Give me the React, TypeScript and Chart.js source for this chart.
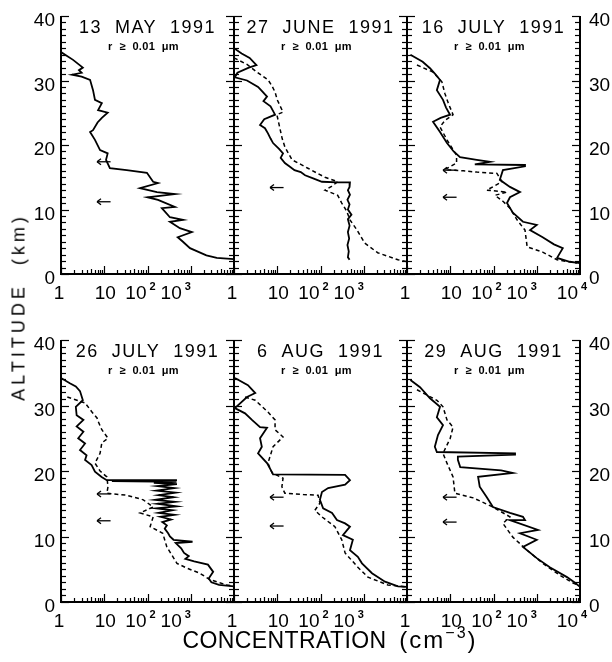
import React, { useEffect, useRef } from "react";
import { Chart, registerables } from "chart.js";

Chart.register(...registerables);

// ---------- data: [concentration (cm^-3), altitude (km)] ----------
const may13Solid: [number, number][] = [
  [1, 34.4], [1.9, 33.2], [3.2, 32.0], [2.6, 31.6], [3.0, 31.2], [1.8, 30.9], [3.0, 30.6], [4.7, 30.1],
  [5.5, 28.5], [6.1, 27.0], [8.8, 26.5], [7.2, 25.4], [12, 25.0], [8.8, 24.2], [7, 23.5], [5.5, 22.3],
  [4.7, 22.0], [6.1, 20.8], [8, 19.2], [12, 18.7], [11, 17.7], [13.5, 16.4], [33, 16.1], [97, 15.7],
  [135, 14.3], [175, 14.1], [67, 13.3], [165, 12.7], [430, 12.4], [100, 11.9], [175, 11.5], [430, 10.4],
  [215, 10.2], [330, 8.8], [660, 8.4], [330, 8.1], [560, 7.1], [1060, 6.5], [500, 5.7], [660, 5.0],
  [960, 4.0], [2300, 2.9], [4000, 2.5], [10000, 2.3],
];
const may13Arrows = [17.4, 11.2];

const june27Solid: [number, number][] = [
  [1, 35.0], [1.5, 34.2], [2.3, 33.5], [3.3, 32.4], [2.2, 32.0], [1.2, 31.2], [1.05, 30.5], [2.0, 30.0],
  [3.6, 29.0], [4.5, 28.3], [5.8, 27.5], [4.8, 26.8], [7, 26.0], [8.9, 24.7], [5, 24.0], [4.0, 23.1],
  [5.2, 22.6], [6.1, 21.8], [7, 21.0], [8, 20.3], [11, 19.4], [13.6, 18.7], [12, 18.0], [15, 17.2],
  [20, 16.6], [25, 16.1], [35, 15.8], [44, 15.3], [70, 14.8], [108, 14.3], [250, 14.2], [480, 14.2],
  [470, 13.5], [430, 13.0], [480, 12.3], [420, 11.5], [470, 10.8], [430, 10.0], [520, 9.2], [430, 8.5],
  [470, 7.5], [430, 6.5], [460, 5.5], [420, 4.5], [450, 3.5], [430, 2.6], [470, 2.2],
];
const june27Dashed: [number, number][] = [
  [1, 33.5], [2, 32.5], [3.4, 31.3], [6.1, 30.1], [7.5, 29.2], [8.9, 28.2], [10, 27], [13.6, 25.1],
  [9.8, 24.7], [10.5, 23.8], [11.5, 22.6], [13, 21], [15, 19.7], [22, 17.7], [35, 17.0], [51, 16.4],
  [80, 15.7], [127, 15.0], [250, 14.3], [180, 13.6], [127, 13.0], [250, 12.2], [310, 11.0], [400, 9.8],
  [480, 8.4], [700, 6.8], [1050, 4.8], [2100, 3.3], [6200, 2.2], [10000, 1.9],
];
const june27Arrows = [13.4];

const july16Solid: [number, number][] = [
  [1.2, 34.0], [2.3, 32.9], [3.4, 31.9], [4.5, 31.0], [5.8, 30.1], [4.9, 28.5], [6.8, 27.0], [8, 25.8],
  [9.9, 24.7], [6, 24.2], [4.0, 23.6], [5.8, 22.0], [8.4, 20.3], [12, 19.0], [16.8, 18.1], [41, 17.7],
  [83, 17.4], [37, 17.0], [535, 16.9], [535, 16.7], [165, 16.1], [140, 14.6], [240, 13.5], [410, 12.7],
  [240, 11.9], [205, 11.0], [280, 9.5], [480, 8.1], [1000, 7.6], [700, 6.8], [1370, 5.7], [2500, 4.6],
  [4000, 4.0], [2950, 2.5], [5800, 1.9], [10000, 1.7],
];
const july16Dashed: [number, number][] = [
  [1.7, 32.4], [4, 31.3], [6.4, 29.8], [7.5, 28.0], [9, 26.5], [11.6, 24.7], [7.5, 23.8], [5.8, 22.8],
  [8.4, 20.8], [14, 18.4], [14, 17.2], [7.5, 16.2], [20, 16.0], [41, 15.8], [120, 15.6], [157, 14.3],
  [70, 13.0], [205, 12.7], [108, 12.2], [170, 11.2], [240, 10.2], [350, 8.4], [535, 6.8], [600, 4.2],
  [1370, 3.4], [2950, 2.2], [8500, 1.7],
];
const july16Arrows = [16.1, 11.9];

const july26Solid: [number, number][] = [
  [1, 34.2], [1.6, 33.4], [2.2, 32.9], [2.75, 32.2], [3.2, 30.8], [2.2, 29.8], [2.3, 28.5], [3.3, 27.8],
  [2.3, 26.8], [3.3, 26.0], [2.5, 25.0], [3.6, 24.2], [2.75, 23.2], [3.9, 22.4], [3.6, 21.7], [5.1, 20.9],
  [6.1, 19.9], [8.7, 19.1], [11.4, 18.6], [480, 18.6], [15, 18.45], [470, 18.35], [140, 18.2], [480, 18.0],
  [170, 17.7], [420, 17.4], [160, 17.0], [450, 16.7], [180, 16.3], [400, 16.0], [150, 15.6], [430, 15.3],
  [170, 15.0], [470, 14.6], [160, 14.3], [380, 14.0], [180, 13.6], [420, 13.3], [200, 13.0], [350, 12.6],
  [220, 12.2], [280, 11.7], [250, 11.2], [300, 10.5], [330, 10.0], [400, 9.5], [1100, 9.2], [450, 9.0],
  [600, 8.2], [700, 7.5], [900, 7.0], [750, 6.6], [1200, 6.2], [2500, 5.7], [3300, 4.6], [2600, 3.6],
  [3000, 3.0], [4500, 2.6], [10000, 2.4],
];
const july26Dashed: [number, number][] = [
  [1.4, 31.3], [1.9, 31.0], [3.6, 30.4], [5.2, 29.0], [6.8, 28.1], [7.2, 27.6], [8.8, 26.3], [12.2, 25.0],
  [8.8, 24.3], [8, 22.7], [6.1, 21.2], [8, 20], [11.5, 19.1], [12.2, 17.6], [11.5, 16.6], [33, 16.3],
  [80, 15.6], [135, 14.5], [67, 13.6], [135, 13.0], [115, 11.5], [225, 10.5], [280, 8.4], [480, 5.9],
  [800, 5.2], [1600, 4.4], [2800, 3.4], [6900, 2.6], [10000, 2.4],
];
const july26Arrows = [16.5, 12.4];

const aug6Solid: [number, number][] = [
  [1.05, 34.2], [2.1, 33.1], [3.1, 31.9], [2.0, 31.3], [1.05, 29.6], [1.8, 28.8], [2.6, 27.8], [4, 26.7],
  [5.8, 26.6], [4, 25.0], [4.4, 23.7], [3.6, 22.7], [5.8, 21.2], [7.6, 19.8], [8, 19.5], [370, 19.4],
  [480, 18.6], [370, 17.9], [150, 17.4], [108, 16.8], [97, 15.6], [115, 14.3], [185, 13.6], [240, 12.5],
  [370, 12.0], [480, 11.5], [330, 10.2], [560, 9.5], [480, 7.9], [730, 6.9], [910, 5.9], [1550, 4.4],
  [3100, 3.1], [6200, 2.4], [10000, 2.3],
];
const aug6Dashed: [number, number][] = [
  [1.8, 31.3], [3.1, 30.8], [6.1, 29.0], [8.9, 27.8], [8.9, 26.3], [13.6, 25.2], [8, 23.7], [6.1, 21.2],
  [7.6, 19.7], [13.6, 18.9], [12.8, 17.6], [15, 16.6], [40, 16.4], [88, 16.3], [97, 15.1], [74, 14.0],
  [108, 13.0], [215, 11.5], [310, 9.5], [370, 7.5], [730, 5.3], [1250, 3.8], [3600, 2.6], [10000, 2.3],
];
const aug6Arrows = [16.0, 11.6];

const aug29Solid: [number, number][] = [
  [1.2, 33.9], [2, 32.8], [3.4, 31.1], [5.8, 29.8], [4.9, 28.2], [6.8, 27.0], [5.2, 25.5], [4.4, 23.7],
  [4.9, 22.9], [315, 22.7], [315, 22.5], [15, 22.2], [15, 21.7], [17, 20.6], [150, 20.1], [280, 19.7],
  [44, 19.1], [48, 17.6], [70, 16.0], [97, 14.5], [240, 13.6], [480, 13.0], [535, 12.5], [240, 12.5],
  [1070, 11.0], [410, 10.5], [1000, 9.5], [480, 8.4], [1000, 6.7], [2000, 5.3], [5000, 3.8], [7800, 2.9],
  [10000, 2.3],
];
const aug29Dashed: [number, number][] = [
  [1.7, 32.4], [4.9, 30.8], [6.8, 29.8], [8.4, 27.8], [11.6, 26.7], [10, 25.0], [6.8, 22.7], [8.4, 21.2],
  [11.6, 19.1], [12.8, 16.6], [34, 15.9], [97, 14.5], [240, 13.0], [165, 12.0], [280, 9.9], [600, 7.9],
  [1370, 5.9], [3400, 4.1], [6900, 2.9], [10000, 2.5],
];
const aug29Arrows = [16.0, 12.2];

// axis ticks / labels
const xTickValues = [1, 10, 100, 1000, 10000];
const xTickBase = ["1", "10", "10", "10", "10"];
const xTickExp = ["", "", "2", "3", "4"];
const yTickValues = [0, 10, 20, 30, 40];
const subtitle = "r  \u2265  0.01  \u03bcm";

// ---------- layout (styling, not data) ----------
const W = 612;
const H = 662;
const colEdges = [61, 234, 407, 580];
const rowEdges = [
  [16, 274],
  [340, 602],
];
const xLabelShift = [-2, 1, -7, -15, -8];
const FONT = '"Liberation Sans", Arial, sans-serif';

type Panel = {
  title: string;
  solid: [number, number][];
  dashed: [number, number][] | null;
  arrows: number[];
  row: number;
  col: number;
};

const panels: Panel[] = [
  { title: "13  MAY  1991", solid: may13Solid, dashed: null, arrows: may13Arrows, row: 0, col: 0 },
  { title: "27  JUNE  1991", solid: june27Solid, dashed: june27Dashed, arrows: june27Arrows, row: 0, col: 1 },
  { title: "16  JULY  1991", solid: july16Solid, dashed: july16Dashed, arrows: july16Arrows, row: 0, col: 2 },
  { title: "26  JULY  1991", solid: july26Solid, dashed: july26Dashed, arrows: july26Arrows, row: 1, col: 0 },
  { title: "6  AUG  1991", solid: aug6Solid, dashed: aug6Dashed, arrows: aug6Arrows, row: 1, col: 1 },
  { title: "29  AUG  1991", solid: aug29Solid, dashed: aug29Dashed, arrows: aug29Arrows, row: 1, col: 2 },
];

function makePanelPlugin(p: Panel) {
  return {
    id: "panelFrame",
    afterDatasetsDraw(chart: any) {
      const { ctx, chartArea: a } = chart;
      const xs = chart.scales.x;
      const ys = chart.scales.y;
      const seg = (x1: number, y1: number, x2: number, y2: number) => {
        ctx.beginPath();
        ctx.moveTo(x1, y1);
        ctx.lineTo(x2, y2);
        ctx.stroke();
      };
      ctx.save();
      ctx.strokeStyle = "#000";
      ctx.fillStyle = "#000";
      ctx.lineCap = "butt";

      // frame: left, bottom, right
      ctx.lineWidth = 2;
      ctx.beginPath();
      ctx.moveTo(a.left, a.top);
      ctx.lineTo(a.left, a.bottom);
      ctx.lineTo(a.right, a.bottom);
      ctx.lineTo(a.right, a.top);
      ctx.stroke();

      // altitude ticks every km, inward on both sides
      ctx.lineWidth = 1.2;
      for (let v = 0; v <= 40; v++) {
        const py = Math.round(ys.getPixelForValue(v)) + 0.5;
        const len = v % 10 === 0 ? 8 : 5;
        seg(a.left, py, a.left + len, py);
        seg(a.right - len, py, a.right, py);
      }

      // log ticks, inward from the bottom
      for (let d = 0; d < 4; d++) {
        for (let m = 1; m <= 9; m++) {
          const v = m * Math.pow(10, d);
          const px = Math.round(xs.getPixelForValue(v)) + 0.5;
          const len = m === 1 ? 8 : m === 5 ? 5 : 4;
          seg(px, a.bottom, px, a.bottom - len);
        }
      }

      // arrows
      ctx.lineWidth = 1.3;
      for (const alt of p.arrows) {
        const py = ys.getPixelForValue(alt);
        const xr = xs.getPixelForValue(14);
        const xl = xs.getPixelForValue(6.8);
        seg(xl, py, xr, py);
        seg(xl, py, xl + 4, py - 3);
        seg(xl, py, xl + 4, py + 3);
      }

      const cx = (a.left + a.right) / 2;
      // title
      ctx.textAlign = "center";
      ctx.textBaseline = "alphabetic";
      (ctx as any).letterSpacing = "1.5px";
      ctx.font = `18px ${FONT}`;
      ctx.fillText(p.title, cx, a.top + 17);
      (ctx as any).letterSpacing = "0.3px";
      ctx.font = `bold 11px ${FONT}`;
      ctx.fillText(subtitle, cx - 4, a.top + 34);
      (ctx as any).letterSpacing = "0px";

      // x tick labels
      const last = p.col === 2 ? 4 : 3;
      for (let i = 0; i <= last; i++) {
        const px = xs.getPixelForValue(xTickValues[i]) + xLabelShift[i];
        ctx.font = `19px ${FONT}`;
        const bw = ctx.measureText(xTickBase[i]).width;
        ctx.font = `11px ${FONT}`;
        const sw = xTickExp[i] ? ctx.measureText(xTickExp[i]).width + 3 : 0;
        const start = px - (bw + sw) / 2;
        ctx.textAlign = "left";
        ctx.font = `19px ${FONT}`;
        ctx.fillText(xTickBase[i], start, a.bottom + 25);
        if (xTickExp[i]) {
          ctx.font = `bold 11px ${FONT}`;
          ctx.fillText(xTickExp[i], start + bw + 3, a.bottom + 16);
        }
      }

      // altitude labels
      ctx.font = `19px ${FONT}`;
      if (p.col === 0) {
        ctx.textAlign = "right";
        for (const v of yTickValues) ctx.fillText(String(v), a.left - 6, ys.getPixelForValue(v) + 10);
      }
      if (p.col === 2) {
        ctx.textAlign = "left";
        for (const v of yTickValues) ctx.fillText(String(v), a.right + 9, ys.getPixelForValue(v) + 10);
      }
      ctx.restore();
    },
  };
}

export default function App() {
  const refs = useRef<(HTMLCanvasElement | null)[]>([]);

  useEffect(() => {
    const charts: Chart[] = [];
    panels.forEach((p, i) => {
      const canvas = refs.current[i];
      if (!canvas) return;
      const [x0, x1] = [colEdges[p.col], colEdges[p.col + 1]];
      const [y0, y1] = rowEdges[p.row];
      const datasets: any[] = [
        {
          data: p.solid.map(([c, alt]) => ({ x: c, y: alt })),
          showLine: true,
          pointRadius: 0,
          borderColor: "#000",
          borderWidth: 1.8,
          fill: false,
        },
      ];
      if (p.dashed) {
        datasets.push({
          data: p.dashed.map(([c, alt]) => ({ x: c, y: alt })),
          showLine: true,
          pointRadius: 0,
          borderColor: "#000",
          borderWidth: 1.5,
          borderDash: [4, 3],
          fill: false,
        });
      }
      charts.push(
        new Chart(canvas, {
          type: "scatter",
          data: { datasets },
          options: {
            animation: false,
            responsive: false,
            maintainAspectRatio: false,
            events: [],
            layout: { padding: { left: x0, right: W - x1, top: y0, bottom: H - y1 } },
            scales: {
              x: { type: "logarithmic", min: 1, max: 10000, display: false },
              y: { type: "linear", min: 0, max: 40, display: false },
            },
            plugins: { legend: { display: false }, tooltip: { enabled: false }, title: { display: false } },
          },
          plugins: [makePanelPlugin(p)],
        } as any)
      );
    });
    return () => charts.forEach((c) => c.destroy());
  }, []);

  return (
    <div style={{ position: "absolute", left: 0, top: 0, width: W, height: H, background: "#fff", overflow: "hidden" }}>
      {panels.map((p, i) => (
        <canvas
          key={i}
          ref={(el) => {
            refs.current[i] = el;
          }}
          width={W}
          height={H}
          style={{ position: "absolute", left: 0, top: 0, width: W, height: H }}
        />
      ))}
      <div
        style={{
          position: "absolute",
          left: 19,
          top: 307,
          transform: "translate(-50%, -50%) rotate(-90deg)",
          whiteSpace: "nowrap",
          fontFamily: FONT,
          fontSize: 18,
          letterSpacing: "4px",
          color: "#000",
        }}
      >
        ALTITUDE&nbsp;&nbsp;(km)
      </div>
      <div
        style={{
          position: "absolute",
          left: 330,
          top: 641,
          transform: "translate(-50%, -50%)",
          whiteSpace: "nowrap",
          fontFamily: FONT,
          fontSize: 23,
          lineHeight: "26px",
          color: "#000",
        }}
      >
        <span style={{ letterSpacing: "0.4px" }}>CONCENTRATION</span>
        &nbsp;&nbsp;
        <span style={{ letterSpacing: "2px", fontSize: 24 }}>
          (cm<span style={{ fontSize: 16, position: "relative", top: -10 }}>{"\u22123"}</span>)
        </span>
      </div>
    </div>
  );
}
